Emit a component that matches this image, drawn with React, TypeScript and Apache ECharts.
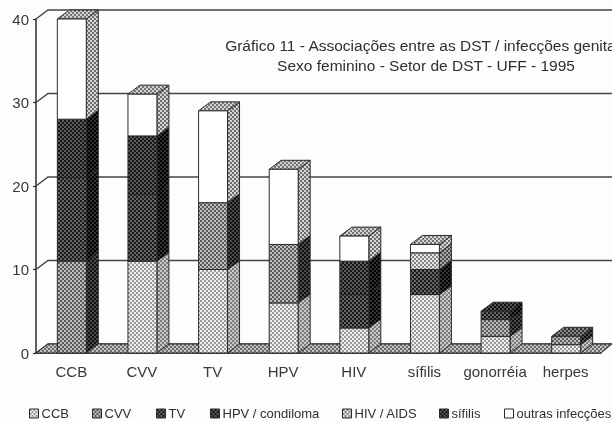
import React, { useEffect, useRef } from "react";
import * as echarts from "echarts";

const categories = ["CCB", "CVV", "TV", "HPV", "HIV", "sífilis", "gonorréia", "herpes"];
const yTicks = [0, 10, 20, 30, 40];

const seriesNames = ["CCB", "CVV", "TV", "HPV / condiloma", "HIV / AIDS", "sífilis", "outras infecções"];
const ccbValues = [0, 11, 10, 6, 3, 7, 2, 1];
const cvvValues = [11, 0, 8, 7, 0, 0, 2, 1];
const tvValues = [10, 8, 0, 0, 4, 3, 1, 0];
const hpvValues = [7, 7, 0, 0, 4, 0, 0, 0];
const hivValues = [0, 0, 0, 0, 0, 2, 0, 0];
const sifilisValues = [0, 0, 0, 0, 0, 0, 0, 0];
const outrasValues = [12, 5, 11, 9, 3, 1, 0, 0];
const seriesValues = [ccbValues, cvvValues, tvValues, hpvValues, hivValues, sifilisValues, outrasValues];

const legendLefts = [29, 92, 156, 210, 342, 439, 504];

// front, side, top: [background, dot]
const palette: string[][][] = [
  [["#eeeeee", "#9a9a9a"], ["#c8c8c8", "#7c7c7c"], ["#e0e0e0", "#8a8a8a"]],
  [["#bdbdbd", "#5a5a5a"], ["#4a4a4a", "#111111"], ["#888888", "#333333"]],
  [["#666666", "#1a1a1a"], ["#333333", "#000000"], ["#555555", "#111111"]],
  [["#5a5a5a", "#161616"], ["#2e2e2e", "#000000"], ["#4a4a4a", "#0e0e0e"]],
  [["#e6e6e6", "#858585"], ["#a6a6a6", "#4c4c4c"], ["#c8c8c8", "#707070"]],
  [["#5e5e5e", "#111111"], ["#303030", "#000000"], ["#505050", "#0e0e0e"]],
  [["#ffffff", "#ffffff"], ["#d6d6d6", "#6e6e6e"], ["#d2d2d2", "#767676"]],
];
const floorColors = ["#c4c4c4", "#6a6a6a"];

const DEPTH_X = 12;
const DEPTH_Y = 9;
const LINE = "#2b2b2b";

function makePattern(bg: string, dot: string) {
  const c = document.createElement("canvas");
  c.width = 4;
  c.height = 4;
  const g = c.getContext("2d")!;
  g.fillStyle = bg;
  g.fillRect(0, 0, 4, 4);
  g.fillStyle = dot;
  g.fillRect(0, 0, 2, 2);
  g.fillRect(2, 2, 2, 2);
  return { image: c, repeat: "repeat" };
}

export default function App() {
  const ref = useRef<HTMLDivElement>(null);
  useEffect(() => {
    const chart = echarts.init(ref.current!, undefined, { renderer: "svg" });
    const patterns = palette.map((faces) => faces.map(([b, d]) => makePattern(b, d)));
    const floorPattern = makePattern(floorColors[0], floorColors[1]);

    const barSeries = seriesNames.map((name, si) => {
      const data: number[][] = [];
      seriesValues[si].forEach((v, ci) => {
        if (v <= 0) return;
        let base = 0;
        for (let k = 0; k < si; k++) base += seriesValues[k][ci];
        data.push([ci, base, base + v]);
      });
      return {
        type: "custom",
        name,
        silent: true,
        z: 5 + si,
        clip: false,
        itemStyle: { color: "#888" },
        encode: { x: 0, y: [1, 2] },
        data,
        renderItem: (_p: any, api: any) => {
          const bottom = api.coord([api.value(0), api.value(1)]);
          const top = api.coord([api.value(0), api.value(2)]);
          const w = api.size([1, 0])[0] * 0.41;
          const x0 = bottom[0] - w / 2 + 0.5;
          const x1 = x0 + w;
          const y0 = bottom[1];
          const y1 = top[1];
          const poly = (points: number[][], fill: any) => ({
            type: "polygon",
            shape: { points },
            style: { fill, stroke: LINE, lineWidth: 1 },
          });
          return {
            type: "group",
            children: [
              poly(
                [[x1, y1], [x1 + DEPTH_X, y1 - DEPTH_Y], [x1 + DEPTH_X, y0 - DEPTH_Y], [x1, y0]],
                patterns[si][1]
              ),
              poly(
                [[x0, y1], [x1, y1], [x1 + DEPTH_X, y1 - DEPTH_Y], [x0 + DEPTH_X, y1 - DEPTH_Y]],
                patterns[si][2]
              ),
              poly([[x0, y0], [x1, y0], [x1, y1], [x0, y1]], patterns[si][0]),
            ],
          };
        },
      };
    });

    const floorSeries = {
      type: "custom",
      name: "floor",
      silent: true,
      z: 2,
      clip: false,
      data: [[0]],
      encode: { y: 0 },
      renderItem: (p: any, api: any) => {
        const y = api.coord([0, 0])[1];
        const cs = p.coordSys;
        const l = cs.x;
        const r = cs.x + cs.width;
        return {
          type: "polygon",
          shape: { points: [[l, y], [r, y], [r + DEPTH_X - 1, y - DEPTH_Y], [l + DEPTH_X, y - DEPTH_Y]] },
          style: { fill: floorPattern, stroke: LINE, lineWidth: 1 },
        };
      },
    };

    const wallSeries = {
      type: "custom",
      name: "wall",
      silent: true,
      z: 1,
      clip: false,
      data: yTicks.map((t) => [t]),
      encode: { y: 0 },
      renderItem: (p: any, api: any) => {
        const y = api.coord([0, api.value(0)])[1];
        const cs = p.coordSys;
        const l = cs.x;
        return {
          type: "polyline",
          shape: { points: [[l, y], [l + DEPTH_X, y - DEPTH_Y], [612, y - DEPTH_Y]] },
          style: { fill: "none", stroke: "#444444", lineWidth: 1.4 },
        };
      },
    };

    chart.setOption({
      animation: false,
      backgroundColor: "#fdfdfd",
      textStyle: { fontFamily: "Liberation Sans" },
      title: {
        text: "Gráfico 11 - Associações entre as DST / infecções genitais\nSexo feminino - Setor de DST - UFF - 1995",
        left: 426,
        top: 35,
        textAlign: "center",
        padding: 0,
        textStyle: {
          fontFamily: "Liberation Sans",
          fontSize: 15.5,
          fontWeight: "normal",
          color: "#2e2e2e",
          lineHeight: 20,
        },
      },
      grid: { left: 36, right: 11, top: 19, bottom: 69, containLabel: false },
      xAxis: {
        type: "category",
        data: categories,
        axisLine: { lineStyle: { color: LINE, width: 1.5 } },
        axisTick: { length: 5, lineStyle: { color: LINE, width: 1.2 } },
        axisLabel: { color: "#383838", fontSize: 15, margin: 11, interval: 0 },
      },
      yAxis: {
        type: "value",
        min: 0,
        max: 40,
        interval: 10,
        axisLine: { show: true, lineStyle: { color: LINE, width: 1.5 } },
        axisTick: { show: true, length: 3, lineStyle: { color: LINE, width: 1.2 } },
        splitLine: { show: false },
        axisLabel: { color: "#383838", fontSize: 15, margin: 7 },
      },
      legend: seriesNames.map((name, si) => ({
        left: legendLefts[si],
        top: 407,
        padding: 0,
        itemWidth: 9,
        itemHeight: 9,
        itemGap: 0,
        selectedMode: false,
        textStyle: { color: "#303030", fontSize: 13, padding: [0, 0, 0, -2] },
        data: [
          {
            name,
            icon: "rect",
            itemStyle: { color: patterns[si][0], borderColor: LINE, borderWidth: 1 },
          },
        ],
      })),
      series: [wallSeries, floorSeries, ...barSeries],
    });
    return () => chart.dispose();
  }, []);
  return (
    <div
      ref={ref}
      style={{ position: "fixed", left: 0, top: 0, width: 612, height: 422, filter: "blur(0.6px)" }}
    />
  );
}
